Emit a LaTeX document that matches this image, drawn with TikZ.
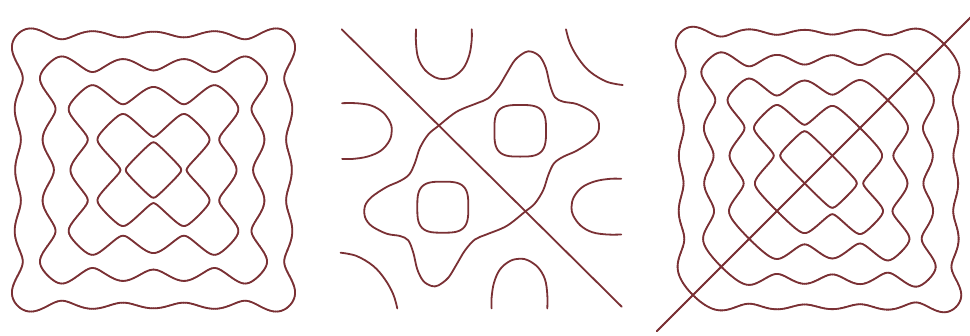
\documentclass[tikz,border=0pt]{standalone}
\usepackage{tikz}
\definecolor{chl}{RGB}{122,48,52}
\tikzset{chline/.style={draw=chl,line width=1.8pt,line cap=round,line join=round}}

\newcount\cntI \newcount\cntJ \newcount\cntK \newcount\cntN \newcount\cntM
\newcount\vA \newcount\vB \newcount\vC \newcount\vD \newcount\vM
\newcount\sgA \newcount\sgB \newcount\sgC \newcount\sgD \newcount\sgM
\newcount\nchg \newcount\firstpt

\def\tval{0}
\def\fillarr{\cntK=0 \fillarrloop}
\def\fillarrloop{%
  \ifnum\cntK>\cntM\else
    \edef\tval{\fpeval{-\Rv+\the\cntK*\Rv/\the\cntN}}%
    \expandafter\edef\csname pA\the\cntK\endcsname{\fpeval{round(10000*(\exprA),0)}}%
    \expandafter\edef\csname pB\the\cntK\endcsname{\fpeval{round(10000*(\exprB),0)}}%
    \advance\cntK by 1
    \expandafter\fillarrloop
  \fi}

\def\gval#1#2{(\csname pA#1\endcsname)*(\csname pB#2\endcsname)\gsign(\csname pB#1\endcsname)*(\csname pA#2\endcsname)}

\def\PtB{\pgfqpoint{\numexpr\cntI*65536+65536*\vA/(\vA-\vB)\relax sp}{\numexpr\cntJ*65536\relax sp}}
\def\PtR{\pgfqpoint{\numexpr\cntI*65536+65536\relax sp}{\numexpr\cntJ*65536+65536*\vB/(\vB-\vC)\relax sp}}
\def\PtT{\pgfqpoint{\numexpr\cntI*65536+65536*\vD/(\vD-\vC)\relax sp}{\numexpr\cntJ*65536+65536\relax sp}}
\def\PtL{\pgfqpoint{\numexpr\cntI*65536\relax sp}{\numexpr\cntJ*65536+65536*\vA/(\vA-\vD)\relax sp}}

\def\emitpt#1{\ifnum\firstpt=1 \pgfpathmoveto{#1}\firstpt=0 \else\pgfpathlineto{#1}\fi}
\def\seg#1#2{\pgfpathmoveto{#1}\pgfpathlineto{#2}\pgfusepath{stroke}}

\def\docell{%
  \edef\ia{\the\numexpr2*\cntI\relax}%
  \edef\ib{\the\numexpr2*\cntI+2\relax}%
  \edef\ja{\the\numexpr2*\cntJ\relax}%
  \edef\jb{\the\numexpr2*\cntJ+2\relax}%
  \vA=\numexpr\gval\ia\ja\relax
  \vB=\numexpr\gval\ib\ja\relax
  \vC=\numexpr\gval\ib\jb\relax
  \vD=\numexpr\gval\ia\jb\relax
  \sgA=\ifnum\vA<0 1\else0\fi\relax
  \sgB=\ifnum\vB<0 1\else0\fi\relax
  \sgC=\ifnum\vC<0 1\else0\fi\relax
  \sgD=\ifnum\vD<0 1\else0\fi\relax
  \nchg=0
  \ifnum\sgA=\sgB\else\advance\nchg1 \fi
  \ifnum\sgB=\sgC\else\advance\nchg1 \fi
  \ifnum\sgD=\sgC\else\advance\nchg1 \fi
  \ifnum\sgA=\sgD\else\advance\nchg1 \fi
  \ifnum\nchg=2
    \firstpt=1
    \ifnum\sgA=\sgB\else\emitpt\PtB\fi
    \ifnum\sgB=\sgC\else\emitpt\PtR\fi
    \ifnum\sgD=\sgC\else\emitpt\PtT\fi
    \ifnum\sgA=\sgD\else\emitpt\PtL\fi
    \pgfusepath{stroke}%
  \else\ifnum\nchg=4
    \edef\ic{\the\numexpr2*\cntI+1\relax}%
    \edef\jc{\the\numexpr2*\cntJ+1\relax}%
    \vM=\numexpr\gval\ic\jc\relax
    \sgM=\ifnum\vM<0 1\else0\fi\relax
    \ifnum\sgM=\sgA
      \seg\PtB\PtR\seg\PtT\PtL
    \else
      \seg\PtB\PtL\seg\PtR\PtT
    \fi
  \fi\fi}

\def\colloop{\ifnum\cntI<\cntN \docell\advance\cntI1 \expandafter\colloop\fi}
\def\rowloop{\ifnum\cntJ<\cntN \cntI=0 \colloop\advance\cntJ1 \expandafter\rowloop\fi}

\begin{document}
\begin{tikzpicture}[x=1pt,y=-1pt]
\useasboundingbox (0,0) rectangle (970,335);
\fill[white] (0,0) rectangle (970,335);
\clip (0,0) rectangle (970,335);

% ---------- left panel: nested wavy squares ----------
\def\Rv{0.47}\cntN=156 \cntM=312
\def\exprA{cos(pi*(\tval))}\def\exprB{cos(11*pi*(\tval))}\def\gsign{+}
\fillarr
\begin{scope}[shift={(153.5-0.47*332,170+0.47*332)},xscale={0.94*332/156},yscale={0.94*332/156},color=chl,line width=1.8pt,line cap=round]
\cntJ=0 \rowloop
\end{scope}

% ---------- right panel: nested squares with diagonal ----------
\def\Rv{0.49}\cntN=162 \cntM=324
\def\exprA{cos(pi*(\tval))}\def\exprB{sin(12*pi*(\tval))}\def\gsign{-}
\fillarr
\begin{scope}[shift={(818.5-0.49*330,169.5+0.49*330)},xscale={0.98*330/162},yscale={0.98*330/162},color=chl,line width=1.8pt,line cap=round]
\cntJ=0 \rowloop
\end{scope}

% ---------- middle panel ----------
\draw[chline] (341.7,29.3) -- (621.7,306.7);
% U shapes and C shapes
\draw[chline] plot[smooth,tension=0.6] coordinates {(416,29.3) (416,43.3) (418.3,58.3) (425,70) (435,77.3) (443.3,79) (453.3,76.7) (463.3,68.3) (469.3,55) (471.7,40) (471.7,29.3)};
\draw[chline] plot[smooth,tension=0.6] coordinates {(547.3,308.4) (547.3,294.4) (545,279.4) (538.3,267.7) (528.3,260.4) (520,258.7) (510,261) (500,269.4) (494,282.7) (491.6,297.7) (491.6,308.4)};
\draw[chline] plot[smooth,tension=0.6] coordinates {(621.2,234.5) (607.2,234.5) (592.2,232.2) (580.5,225.5) (573.2,215.5) (571.5,207.2) (573.8,197.2) (582.2,187.2) (595.5,181.2) (610.5,178.8) (621.2,178.8)};
\draw[chline] plot[smooth,tension=0.6] coordinates {(342.1,103.2) (356.1,103.2) (371.1,105.5) (382.8,112.2) (390.1,122.2) (391.8,130.5) (389.5,140.5) (381.1,150.5) (367.8,156.5) (352.8,158.9) (342.1,158.9)};
% corner arcs
\draw[chline] plot[smooth,tension=0.6] coordinates {(566,29.3) (570,43.3) (578.3,58.3) (590,71.7) (606.7,81.7) (622.7,85)};
\draw[chline] plot[smooth,tension=0.6] coordinates {(397.3,308.4) (393.3,294.4) (385,279.4) (373.3,266) (356.6,256) (340.6,252.7)};
% rounded square loops
\draw[chline] plot[domain=0:352.5,samples=48,smooth cycle] ({442.8+25.5*sign(cos(\x))*(abs(cos(\x))+0.0001)^0.6},{207.2+25.5*sign(sin(\x))*(abs(sin(\x))+0.0001)^0.6});
\draw[chline] plot[domain=0:352.5,samples=48,smooth cycle] ({520.2+25.8*sign(cos(\x))*(abs(cos(\x))+0.0001)^0.6},{130.8+25.8*sign(sin(\x))*(abs(sin(\x))+0.0001)^0.6});
% star
\draw[chline] plot[smooth cycle,tension=0.55] coordinates {(438.3,126.0) (456.7,111.7) (476.7,103.3) (488.3,98.3) (498.3,87.3) (506.7,73.3) (515,60) (525,52.3) (531.7,51.7) (540,56.7) (546,68.3) (550,85) (555,97.3) (563.3,101.7) (576.7,104) (591.7,111.7) (598.3,120.7) (598.3,131.7) (591.7,140.7) (576.7,150.7) (563.3,156.7) (554,163.3) (548.3,175) (543.3,190) (535,203.3) (525,211.7) (506.6,226.0) (486.6,234.4) (475.0,239.4) (465.0,250.4) (456.6,264.4) (448.3,277.7) (438.3,285.4) (431.6,286.0) (423.3,281.0) (417.3,269.4) (413.3,252.7) (408.3,240.4) (400.0,236.0) (386.6,233.7) (371.6,226.0) (365.0,217.0) (365.0,206.0) (371.6,197.0) (386.6,187.0) (400.0,181.0) (409.3,174.4) (415.0,162.7) (420.0,147.7) (428.3,134.4)};
\end{tikzpicture}
\end{document}
